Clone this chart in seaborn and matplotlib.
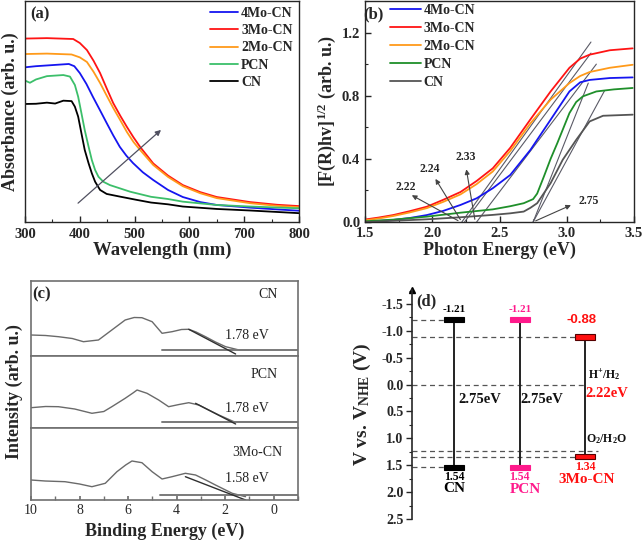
import numpy as np
import pandas as pd
import matplotlib
matplotlib.use('Agg')
import matplotlib.pyplot as plt
from matplotlib.ticker import MultipleLocator, FixedLocator
import seaborn as sns

# ---------------- panel (a): UV-vis absorbance ----------------
samples = ['4Mo-CN', '3Mo-CN', '2Mo-CN', 'PCN', 'CN']

wl_4mo = [300, 320, 350, 380, 390, 400, 412, 424, 437, 449, 461, 473, 485, 497, 515, 534, 561, 588, 620, 650, 711, 760, 800]
abs_4mo = [0.700, 0.705, 0.710, 0.715, 0.705, 0.674, 0.625, 0.566, 0.505, 0.448, 0.392, 0.340, 0.300, 0.267, 0.225, 0.190, 0.145, 0.113, 0.090, 0.077, 0.065, 0.057, 0.051]

wl_3mo = [300, 340, 388, 400, 413, 425, 437, 449, 461, 474, 486, 498, 510, 534, 561, 588, 620, 650, 711, 760, 800]
abs_3mo = [0.830, 0.832, 0.828, 0.810, 0.778, 0.730, 0.674, 0.605, 0.538, 0.480, 0.430, 0.383, 0.340, 0.265, 0.210, 0.167, 0.135, 0.113, 0.090, 0.078, 0.072]

wl_2mo = [300, 340, 385, 400, 413, 425, 437, 449, 461, 474, 486, 498, 510, 534, 561, 588, 620, 650, 711, 760, 800]
abs_2mo = [0.760, 0.762, 0.758, 0.745, 0.724, 0.680, 0.629, 0.572, 0.516, 0.460, 0.407, 0.362, 0.326, 0.258, 0.204, 0.162, 0.130, 0.108, 0.085, 0.073, 0.067]

wl_pcn = [300, 309, 320, 340, 370, 382, 391, 397, 403, 409, 416, 422, 428, 434, 443, 455, 492, 530, 561, 588, 650, 711, 800]
abs_pcn = [0.640, 0.630, 0.645, 0.660, 0.665, 0.658, 0.620, 0.567, 0.492, 0.416, 0.341, 0.280, 0.235, 0.205, 0.182, 0.167, 0.137, 0.114, 0.104, 0.092, 0.077, 0.070, 0.062]

wl_cn = [300, 320, 340, 355, 370, 385, 391, 397, 403, 409, 416, 422, 428, 437, 449, 473, 504, 530, 561, 588, 650, 711, 800]
abs_cn = [0.534, 0.535, 0.540, 0.536, 0.549, 0.547, 0.522, 0.477, 0.401, 0.326, 0.266, 0.220, 0.182, 0.145, 0.127, 0.115, 0.100, 0.088, 0.080, 0.070, 0.059, 0.052, 0.040]

arrow_a_start = (393, 0.077)
arrow_a_end = (552, 0.425)

# ---------------- panel (b): Tauc plot ----------------
ev_red = [1.51, 1.60, 1.71, 1.83, 1.96, 2.08, 2.21, 2.33, 2.45, 2.58, 2.73, 2.88, 3.02, 3.10, 3.17, 3.32, 3.49]
tauc_red = [0.017, 0.028, 0.044, 0.068, 0.097, 0.140, 0.190, 0.260, 0.340, 0.470, 0.650, 0.827, 0.977, 1.035, 1.060, 1.088, 1.100]
ev_org = [1.51, 1.60, 1.71, 1.83, 1.96, 2.08, 2.21, 2.33, 2.45, 2.58, 2.73, 2.88, 3.02, 3.10, 3.17, 3.32, 3.49]
tauc_org = [0.012, 0.022, 0.038, 0.060, 0.088, 0.127, 0.175, 0.240, 0.320, 0.450, 0.625, 0.775, 0.880, 0.925, 0.950, 0.977, 0.996]
ev_blu = [1.51, 1.71, 1.83, 1.96, 2.08, 2.21, 2.33, 2.45, 2.58, 2.73, 2.88, 3.02, 3.10, 3.17, 3.32, 3.49]
tauc_blu = [0.002, 0.013, 0.025, 0.044, 0.070, 0.108, 0.150, 0.214, 0.298, 0.457, 0.648, 0.827, 0.885, 0.900, 0.912, 0.916]
ev_grn = [1.51, 1.71, 1.96, 2.21, 2.45, 2.58, 2.68, 2.75, 2.78, 2.83, 2.88, 2.93, 3.02, 3.07, 3.12, 3.22, 3.35, 3.49]
tauc_grn = [0.005, 0.015, 0.034, 0.059, 0.080, 0.100, 0.119, 0.145, 0.180, 0.288, 0.400, 0.500, 0.690, 0.760, 0.796, 0.827, 0.840, 0.849]
ev_blk = [1.51, 1.96, 2.21, 2.45, 2.58, 2.68, 2.73, 2.78, 2.88, 2.97, 3.07, 3.17, 3.27, 3.49]
tauc_blk = [0.000, 0.017, 0.030, 0.045, 0.055, 0.066, 0.090, 0.119, 0.246, 0.394, 0.520, 0.637, 0.673, 0.680]

tan_x0 = [2.22, 2.24, 2.33, 2.75, 2.75]
tan_y0 = [0.0, 0.0, 0.0, 0.0, 0.0]
tan_x1 = [3.18, 3.18, 3.22, 3.16, 3.28]
tan_y1 = [1.14, 1.07, 1.00, 0.88, 0.83]

gap_labels = ['2.22', '2.24', '2.33', '2.75']
gap_text_x = [1.80, 1.983, 2.25, 3.16]
gap_text_y = [0.224, 0.335, 0.41, 0.135]
gap_head_x = [1.83, 2.013, 2.25, 3.05]
gap_head_y = [0.178, 0.288, 0.351, 0.114]
gap_tail_x = [2.21, 2.22, 2.32, 2.75]
gap_tail_y = [0.0, 0.0, 0.0, 0.0]

# ---------------- panel (c): VB-XPS ----------------
xps_names = ['CN', 'PCN', '3Mo-CN']
be_cn = [10.0, 9.4, 8.87, 8.3, 7.84, 7.22, 6.67, 6.12, 5.75, 5.43, 5.01, 4.6, 4.19, 3.8, 3.5, 3.2, 2.81, 2.4, 1.98, 1.43, 1.0]
int_cn = [21, 20.5, 19.3, 17.5, 14.3, 16, 26, 36, 38.5, 38.3, 34.3, 22.7, 24.3, 26.5, 26.7, 24, 19.3, 14, 9.3, 6, 6]
be_pcn = [10.0, 9.4, 8.87, 8.2, 7.49, 7.0, 6.67, 6.12, 5.8, 5.63, 5.22, 4.74, 4.33, 3.9, 3.5, 3.09, 2.68, 2.26, 1.64, 1.0]
int_pcn = [20.3, 21.5, 21.3, 19, 14.7, 16.5, 21.3, 29.7, 35, 38, 34.7, 28, 21.3, 23.5, 25.3, 23, 18, 13, 6.3, 6.3]
be_3mo = [10.0, 9.42, 8.6, 8.0, 7.49, 6.94, 6.46, 6.1, 5.84, 5.43, 5.01, 4.6, 4.19, 3.64, 3.22, 2.8, 2.4, 1.71, 1.16]
int_3mo = [20, 19, 18.3, 16, 13.3, 16.7, 28.3, 35, 39, 37.3, 28.3, 21, 23.3, 26.7, 25, 20, 15, 6.7, 3.3]
xps_top = [75, 72, 72]
base_start = [4.6, 4.6, 4.67]
base_level = [6.0, 6.3, 5.0]
xtan_x0 = [3.5, 3.22, 3.64]
xtan_y0 = [26.7, 24.7, 23.3]
xtan_x1 = [1.57, 1.57, 1.16]
xtan_y1 = [2.0, 4.0, 0.0]
vbm_labels = ['1.78 eV', '1.78 eV', '1.58 eV']
vbm_text_y = [14.3, 13.0, 15.0]
name_x = [0.25, 0.41, 0.66]
name_y = [61, 53, 48]

# ---------------- panel (d): band alignment ----------------
d_samples = ['CN', 'PCN', '3Mo-CN']
d_xpos = [0.192, 0.49, 0.786]
cb_pot = [-1.21, -1.21, -0.88]
vb_pot = [1.54, 1.54, 1.34]
gap_text = ['2.75eV', '2.75eV', '2.22eV']
redox_pot = [0.0, 1.23]
redox_text = ['H$^{+}$/H$_{2}$', 'O$_{2}$/H$_{2}$O']
d_ticks = [-1.5, -1.0, -0.5, 0.0, 0.5, 1.0, 1.5, 2.0, 2.5]

# ---------------- style ----------------
sns.set_theme(style='ticks')
plt.rcParams['font.family'] = ['Liberation Serif', 'DejaVu Serif']
plt.rcParams['mathtext.fontset'] = 'custom'
plt.rcParams['mathtext.rm'] = 'Liberation Serif:bold'
plt.rcParams['mathtext.it'] = 'Liberation Serif:italic:bold'
plt.rcParams['mathtext.bf'] = 'Liberation Serif:bold'
plt.rcParams['axes.linewidth'] = 1.0

W, H = 644, 547
fig = plt.figure(figsize=(W / 100, H / 100), dpi=100)


def rect(l, t, r, b):
    return [l / W, 1 - b / H, (r - l) / W, (b - t) / H]


def long_df(names, xs, ys, xn, yn):
    frames = [pd.DataFrame({xn: x, yn: y, 'Sample': n}) for n, x, y in zip(names, xs, ys)]
    return pd.concat(frames, ignore_index=True)


bold = dict(fontweight='bold')

# ---------------- (a) ----------------
ax_a = fig.add_axes(rect(25, 1, 299, 222))
pal_a = {'4Mo-CN': '#1515f0', '3Mo-CN': '#ff1414', '2Mo-CN': '#ff9a1a', 'PCN': '#3cbf6a', 'CN': '#000000'}
df_a = long_df(samples, [wl_4mo, wl_3mo, wl_2mo, wl_pcn, wl_cn],
               [abs_4mo, abs_3mo, abs_2mo, abs_pcn, abs_cn], 'Wavelength', 'Absorbance')
sns.lineplot(data=df_a, x='Wavelength', y='Absorbance', hue='Sample', hue_order=samples,
             palette=pal_a, estimator=None, sort=True, lw=1.3, ax=ax_a)
ax_a.annotate('', xy=arrow_a_end, xytext=arrow_a_start,
              arrowprops=dict(arrowstyle='-|>', color='#505060', lw=0.9, mutation_scale=8))
ax_a.set_xlim(300, 800)
ax_a.set_ylim(0, 1.0)
ax_a.set_yticks([])
ax_a.xaxis.set_major_locator(MultipleLocator(100))
ax_a.xaxis.set_minor_locator(MultipleLocator(50))
ax_a.tick_params(axis='x', which='major', direction='in', length=4, width=1, labelsize=10.5, pad=4)
ax_a.tick_params(axis='x', which='minor', direction='in', length=2, width=0.8)
for lab in ax_a.get_xticklabels():
    lab.set_fontweight('bold')
ax_a.set_xlabel('Wavelength (nm)', fontsize=13.5, labelpad=1, **bold)
ax_a.set_ylabel('Absorbance (arb. u.)', fontsize=13, labelpad=4, **bold)
sns.move_legend(ax_a, 'upper left', bbox_to_anchor=(0.675, 0.975), frameon=False, title=None,
                prop={'weight': 'bold', 'size': 10}, handlelength=2.0, handletextpad=0.25,
                labelspacing=0.32, borderpad=0, borderaxespad=0)
ax_a.text(0.02, 0.975, '(a)', transform=ax_a.transAxes, ha='left', va='top', fontsize=12, **bold)

# ---------------- (b) ----------------
ax_b = fig.add_axes(rect(365, 1, 634, 222))
pal_b = {'4Mo-CN': '#1515f0', '3Mo-CN': '#ff1414', '2Mo-CN': '#ff9a1a', 'PCN': '#1f8f2a', 'CN': '#555555'}
df_b = long_df(samples, [ev_blu, ev_red, ev_org, ev_grn, ev_blk],
               [tauc_blu, tauc_red, tauc_org, tauc_grn, tauc_blk], 'Energy', 'Tauc')
for x0, y0, x1, y1 in zip(tan_x0, tan_y0, tan_x1, tan_y1):
    ax_b.plot([x0, x1], [y0, y1], color='#5a5a66', lw=0.8, zorder=1)
sns.lineplot(data=df_b, x='Energy', y='Tauc', hue='Sample', hue_order=samples,
             palette=pal_b, estimator=None, sort=True, lw=1.3, ax=ax_b)
for lab, tx, ty, hx, hy, sx, sy in zip(gap_labels, gap_text_x, gap_text_y, gap_head_x, gap_head_y,
                                       gap_tail_x, gap_tail_y):
    ax_b.annotate('', xy=(hx, hy), xytext=(sx, sy),
                  arrowprops=dict(arrowstyle='-|>', color='#444444', lw=0.8, mutation_scale=7))
    ax_b.text(tx, ty, lab, ha='center', va='center', fontsize=8.5, **bold)
ax_b.set_xlim(1.5, 3.5)
ax_b.set_ylim(0, 1.4)
ax_b.xaxis.set_major_locator(MultipleLocator(0.5))
ax_b.xaxis.set_minor_locator(MultipleLocator(0.25))
ax_b.yaxis.set_major_locator(FixedLocator([0.0, 0.4, 0.8, 1.2]))
ax_b.yaxis.set_minor_locator(MultipleLocator(0.2))
ax_b.tick_params(which='major', direction='in', length=4, width=1, labelsize=10.5)
ax_b.tick_params(which='minor', direction='in', length=2, width=0.8)
ax_b.set_yticklabels(['0.0', '0.4', '0.8', '1.2'])
for lab in ax_b.get_xticklabels() + ax_b.get_yticklabels():
    lab.set_fontweight('bold')
ax_b.set_xlabel('Photon Energy (eV)', fontsize=13, labelpad=1, **bold)
ax_b.set_ylabel(r'[F(R)hv]$^{1/2}$ (arb. u.)', fontsize=13, labelpad=3, **bold)
sns.move_legend(ax_b, 'upper left', bbox_to_anchor=(0.093, 0.985), frameon=False, title=None,
                prop={'weight': 'bold', 'size': 10}, handlelength=2.2, handletextpad=0.2,
                labelspacing=0.35, borderpad=0, borderaxespad=0)
ax_b.text(-0.005, 0.975, '(b)', transform=ax_b.transAxes, ha='left', va='top', fontsize=12, **bold)

# ---------------- (c) ----------------
c_bounds = [(281, 356), (356, 428), (428, 500)]
xps_be = [be_cn, be_pcn, be_3mo]
xps_int = [int_cn, int_pcn, int_3mo]
c_axes = []
for i, (t, b) in enumerate(c_bounds):
    ax = fig.add_axes(rect(31, t, 298, b))
    c_axes.append(ax)
    sns.lineplot(x=xps_be[i], y=xps_int[i], color='#6a6a6a', lw=1.0, estimator=None, sort=False, ax=ax)
    ax.plot([base_start[i], -1.0], [base_level[i], base_level[i]], color='#7a7a7a', lw=1.4)
    ax.plot([xtan_x0[i], xtan_x1[i]], [xtan_y0[i], xtan_y1[i]], color='#303030', lw=1.0)
    ax.text(1.12, vbm_text_y[i], vbm_labels[i], ha='center', va='bottom', fontsize=10, color='#222222')
    ax.text(name_x[i], name_y[i], xps_names[i], ha='center', va='center', fontsize=10, color='#222222')
    ax.set_xlim(10, -1)
    ax.set_ylim(0, xps_top[i])
    ax.set_yticks([])
    for sp in ax.spines.values():
        sp.set_color('#707070')
        sp.set_linewidth(1.2)
    if i < 2:
        ax.set_xticks([])
    else:
        ax.xaxis.set_major_locator(FixedLocator([10, 8, 6, 4, 2, 0]))
        ax.xaxis.set_minor_locator(FixedLocator([9, 7, 5, 3, 1, -1]))
        ax.tick_params(axis='x', which='major', direction='in', length=3, color='#707070', labelsize=10, pad=3)
        ax.tick_params(axis='x', which='minor', direction='in', length=3, color='#707070')
        ax.set_xlabel('Binding Energy (eV)', fontsize=13, labelpad=4, **bold)
c_axes[1].set_ylabel('Intensity (arb. u.)', fontsize=13, labelpad=6, **bold)
c_axes[0].text(0.005, 0.93, '(c)', transform=c_axes[0].transAxes, ha='left', va='top', fontsize=12, **bold)

# ---------------- (d) ----------------
ax_d = fig.add_axes(rect(412, 290, 632, 519))
ax_d.set_xlim(0, 1)
ax_d.set_ylim(2.5, -1.76)
bar_w = 0.091
bar_h = 0.105
d_face = ['#000000', '#ff1a8c', '#ff1010']
d_edge = ['#000000', '#ff1a8c', '#550000']
d_txt = ['#000000', '#ff1a8c', '#ff1010']
dash = (0, (4, 3))
# dashed reference lines
ax_d.hlines(cb_pot[0], 0, d_xpos[0] - bar_w / 2, colors='#555555', linestyles=dash, lw=0.9)
ax_d.hlines(vb_pot[0], 0, d_xpos[0] - bar_w / 2, colors='#555555', linestyles=dash, lw=0.9)
ax_d.hlines(cb_pot[2], 0, d_xpos[2] - bar_w / 2, colors='#555555', linestyles=dash, lw=0.9)
ax_d.hlines(vb_pot[2], 0, d_xpos[2] - bar_w / 2, colors='#555555', linestyles=dash, lw=0.9)
ax_d.hlines(redox_pot[0], 0, d_xpos[2], colors='#555555', linestyles=dash, lw=0.9)
ax_d.hlines(redox_pot[1], 0, 0.845, colors='#555555', linestyles=dash, lw=0.9)
# vertical connectors and bars
ax_d.vlines(d_xpos, cb_pot, vb_pot, colors='#222222', lw=1.4, zorder=2)
ax_d.bar(d_xpos, [bar_h] * 3, bottom=[c - bar_h / 2 for c in cb_pot], width=bar_w,
         color=d_face, edgecolor=d_edge, lw=0.8, zorder=3)
ax_d.bar(d_xpos, [bar_h] * 3, bottom=[v - bar_h / 2 for v in vb_pot], width=bar_w,
         color=d_face, edgecolor=d_edge, lw=0.8, zorder=3)
# labels
ax_d.text(d_xpos[0], -1.39, f'{cb_pot[0]:.2f}', ha='center', va='center', fontsize=8, color=d_txt[0], **bold)
ax_d.text(d_xpos[1], -1.39, f'{cb_pot[1]:.2f}', ha='center', va='center', fontsize=8, color=d_txt[1], **bold)
ax_d.text(0.771, -1.20, f'{cb_pot[2]:.2f}', ha='center', va='center', fontsize=9.5, color=d_txt[2],
          family=['Liberation Sans', 'DejaVu Sans'], **bold)
ax_d.text(d_xpos[0], 1.71, f'{vb_pot[0]:.2f}', ha='center', va='center', fontsize=8.5, color=d_txt[0], **bold)
ax_d.text(d_xpos[1], 1.71, f'{vb_pot[1]:.2f}', ha='center', va='center', fontsize=8.5, color=d_txt[1], **bold)
ax_d.text(d_xpos[2], 1.527, f'{vb_pot[2]:.2f}', ha='center', va='center', fontsize=8.5, color=d_txt[2], **bold)
ax_d.text(0.192, 1.93, d_samples[0], ha='center', va='center', fontsize=11, color=d_txt[0], **bold)
ax_d.text(0.514, 1.95, d_samples[1], ha='center', va='center', fontsize=11, color=d_txt[1], **bold)
ax_d.text(0.794, 1.76, d_samples[2], ha='center', va='center', fontsize=11, color=d_txt[2], **bold)
ax_d.text(0.309, 0.27, gap_text[0], ha='center', va='center', fontsize=10.5, color='#111111', **bold)
ax_d.text(0.59, 0.27, gap_text[1], ha='center', va='center', fontsize=10.5, color='#111111', **bold)
ax_d.text(0.885, 0.16, gap_text[2], ha='center', va='center', fontsize=10.5, color='#ff1010', **bold)
ax_d.text(0.873, -0.17, redox_text[0], ha='center', va='center', fontsize=8.5, color='#111111', **bold)
ax_d.text(0.885, 1.02, redox_text[1], ha='center', va='center', fontsize=8.5, color='#111111', **bold)
ax_d.text(0.02, -1.556, '(d)', ha='left', va='center', fontsize=12, **bold)
# axis styling
for s in ['top', 'right', 'bottom']:
    ax_d.spines[s].set_visible(False)
ax_d.spines['left'].set_linewidth(1.2)
ax_d.set_xticks([])
ax_d.yaxis.set_major_locator(FixedLocator(d_ticks))
ax_d.yaxis.set_minor_locator(MultipleLocator(0.25))
ax_d.set_yticklabels([f'{v:.1f}' for v in d_ticks])
ax_d.tick_params(axis='y', which='major', direction='out', length=4, width=1.0, labelsize=10, pad=2)
ax_d.tick_params(axis='y', which='minor', direction='out', length=2, width=0.8)
for lab in ax_d.get_yticklabels():
    lab.set_fontweight('bold')
ax_d.plot([0], [1], marker='^', ms=5, color='black', transform=ax_d.transAxes, clip_on=False)
ax_d.set_ylabel(r'V vs. V$_{\mathrm{NHE}}$ (V)', fontsize=14, labelpad=6, **bold)

fig.savefig('out.png', dpi=100)
